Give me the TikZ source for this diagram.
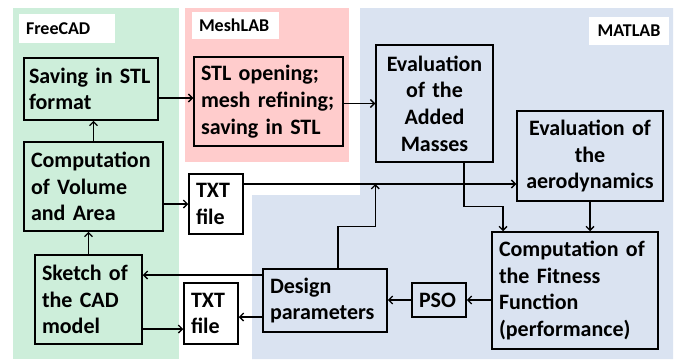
\documentclass[tikz,border=0pt]{standalone}
\usepackage{fontspec}
\setmainfont{Carlito}
\usetikzlibrary{arrows.meta}
\definecolor{cadGreen}{HTML}{CDEEDA}
\definecolor{meshPink}{HTML}{FFCCCC}
\definecolor{matBlue}{HTML}{DAE3F1}

\begin{document}
\begin{tikzpicture}[x=1pt, y=-1pt,
    blk/.style={draw, line width=1.5pt, inner xsep=7pt, inner ysep=0pt, align=left,
        font=\bfseries\fontsize{22}{26.7}\selectfont},
    tag/.style={fill=white, inner xsep=7pt, inner ysep=0pt, align=left,
        font=\bfseries\fontsize{18}{20}\selectfont},
    arr/.style={line width=1.3pt, -{Straight Barb[length=4pt,width=8pt]}}]
    \useasboundingbox (0,0) rectangle (679,359);
    % tool areas
    \fill[cadGreen] (13,8) rectangle (179,359);
    \fill[meshPink] (185,8) rectangle (349,162);
    \fill[matBlue] (360,8) -- (673,8) -- (673,359) -- (252,359) -- (252,195) -- (360,195) -- cycle;
    \node[tag, text width=82pt, minimum height=29pt] (freecad) at (67,28.5) {FreeCAD};
    \node[tag, text width=73pt, minimum height=27pt] (meshlab) at (235.5,25.5) {MeshLAB};
    \node[tag, align=center, text width=66pt, minimum height=28pt] (matlab) at (629,31) {MATLAB};
    % FreeCAD steps
    \node[blk, inner xsep=5pt, text width=124pt, minimum height=62pt] (save) at (91,89) {Saving in STL\\format};
    \node[blk, text width=125pt, minimum height=89pt] (compvol) at (93.5,186.5) {Computation\\of Volume\\and Area};
    \node[blk, text width=93pt, minimum height=89pt] (sketch) at (88.5,299.5) {Sketch of\\the CAD\\model};
    \node[blk, fill=white, text width=40pt, minimum height=60pt] (txta) at (216,204) {TXT\\file};
    \node[blk, fill=white, text width=40pt, minimum height=61pt] (txtb) at (211,313.5) {TXT\\file};
    % MeshLAB
    \node[blk, text width=135pt, minimum height=89pt] (stl) at (268.5,101.5) {STL opening;\\mesh refining;\\saving in STL};
    % MATLAB
    \node[blk, align=center, text width=103pt, minimum height=117pt] (added) at (434.5,103.5) {Evaluation\\of the\\Added\\Masses};
    \node[blk, align=center, text width=132pt, minimum height=90pt] (aero) at (590,156) {Evaluation of\\the\\aerodynamics};
    \node[blk, text width=152pt, minimum height=117pt] (fitness) at (575,290.5) {Computation of\\the Fitness\\Function\\(performance)};
    \node[blk, text width=40pt, minimum height=34pt] (pso) at (439,300) {PSO};
    \node[blk, text width=110pt, minimum height=63pt] (design) at (325,300.5) {Design\\parameters};
    % flow
    \path ([yshift=-9pt]save.east) coordinate (s1);
    \draw[arr] (s1) -- (s1 -| stl.west);
    \draw[arr] (compvol.north) -- (compvol.north |- save.south);
    \draw[arr] (stl.east |- added.west) -- (added.west);
    \draw[arr] (compvol.east |- txta.west) -- (txta.west);
    \path ([yshift=20pt]txta.east) coordinate (t1);
    \draw[arr] (t1) -- (t1 -| aero.west);
    \draw[arr] (sketch.north) -- (sketch.north |- compvol.south);
    \path ([yshift=25.5pt]design.west) coordinate (d1);
    \draw[arr] (d1) -- (d1 -| sketch.east);
    \path ([yshift=-16.5pt]design.west) coordinate (d2);
    \draw[arr] (d2) -- (d2 -| txtb.east);
    \path ([yshift=-29.5pt]sketch.east) coordinate (k1);
    \draw[arr] (k1) -- (k1 -| txtb.west);
    \coordinate (j1) at (t1 -| added.west);
    \draw[arr] ([xshift=13pt]design.north) -- ++(0,-42) -| (j1);
    \draw[arr] ([xshift=29.5pt]added.south) -- ++(0,44) -| ([xshift=-72pt]fitness.north);
    \draw[arr] (aero.south) -- (aero.south |- fitness.north);
    \draw[arr] (fitness.west |- pso.east) -- (pso.east);
    \draw[arr] (pso.west) -- (pso.west -| design.east);
\end{tikzpicture}
\end{document}
